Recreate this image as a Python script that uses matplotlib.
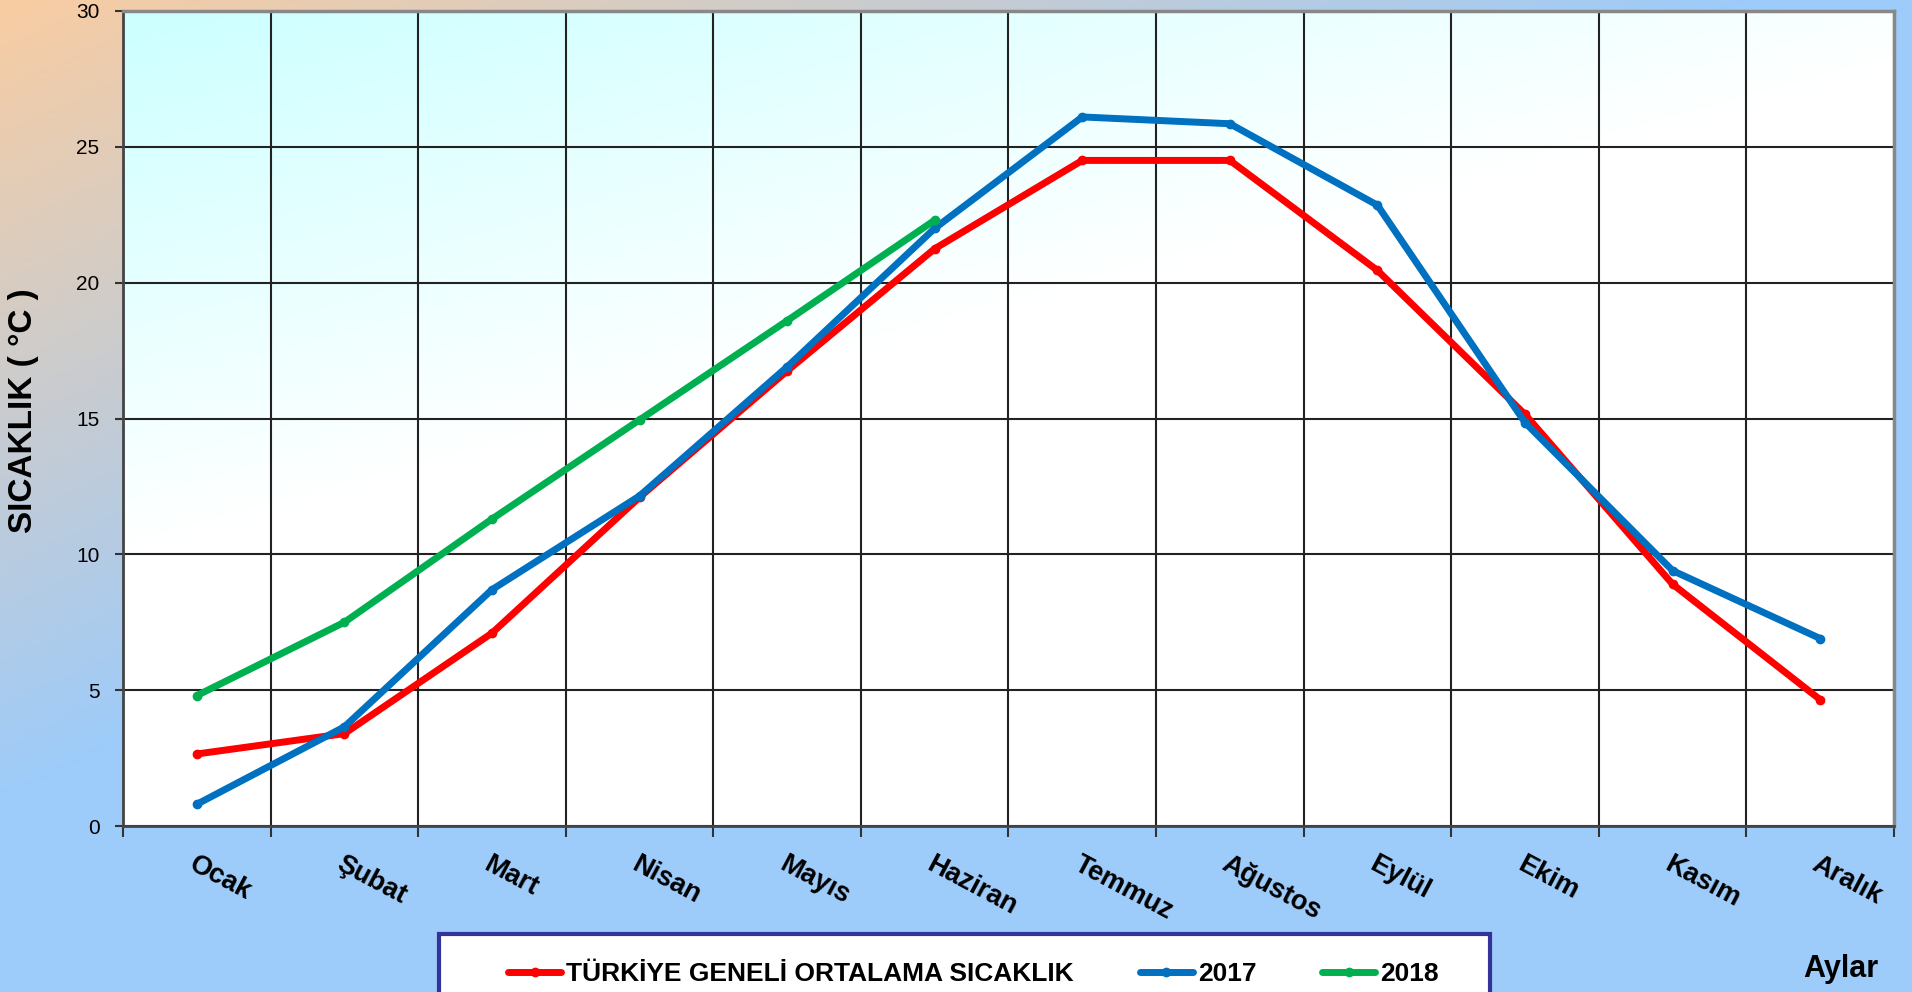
import numpy as np
import matplotlib
matplotlib.use("Agg")
import matplotlib.pyplot as plt
from matplotlib.patches import Rectangle

plt.rcParams['font.family'] = ['Liberation Sans', 'DejaVu Sans']

# data
months = ['Ocak', 'Şubat', 'Mart', 'Nisan', 'Mayıs', 'Haziran',
          'Temmuz', 'Ağustos', 'Eylül', 'Ekim', 'Kasım', 'Aralık']
ortalama = [2.65, 3.4, 7.1, 12.1, 16.75, 21.25, 24.5, 24.5, 20.45, 15.15, 8.9, 4.65]
y2017 = [0.8, 3.65, 8.7, 12.15, 16.9, 22.0, 26.1, 25.85, 22.85, 14.85, 9.4, 6.9]
y2018 = [4.8, 7.5, 11.3, 14.95, 18.6, 22.3]

series_names = ['TÜRKİYE GENELİ ORTALAMA SICAKLIK', '2017', '2018']
series_colors = ['#FF0000', '#0070C0', '#00B050']

W, H = 1912, 992
fig = plt.figure(figsize=(W / 100, H / 100), dpi=100)

# figure background: peach top-left -> blue
bg = fig.add_axes([0, 0, 1, 1], zorder=-10)
bg.set_axis_off()
xx, yy = np.meshgrid(np.linspace(0, W, 400), np.linspace(0, H, 200))
t = np.clip(xx / 1750 + yy / 800, 0, 1)[..., None]
c0 = np.array([249, 205, 162]) / 255
c1 = np.array([157, 203, 250]) / 255
bg.imshow(c0 * (1 - t) + c1 * t, extent=[0, 1, 0, 1], aspect='auto', origin='upper')
bg.set_xlim(0, 1)
bg.set_ylim(0, 1)

ax = fig.add_axes([123 / W, 1 - 826 / H, (1894 - 123) / W, (826 - 11) / H])
ax.patch.set_alpha(0)

# plot area background: light cyan top-left -> white
ax_x, ax_y = np.meshgrid(np.linspace(0, 1, 300), np.linspace(0, 1, 200))
ta = np.clip(ax_x * 0.9 + ax_y * 1.5, 0, 1)[..., None]
a0 = np.array([204, 255, 255]) / 255
a1 = np.array([255, 255, 255]) / 255
ax.imshow(a0 * (1 - ta) + a1 * ta, extent=[0, 1, 0, 1], aspect='auto',
          origin='upper', transform=ax.transAxes, zorder=0)

x = np.arange(len(months)) + 0.5
lines = []
for vals, name, col in zip([ortalama, y2017, y2018], series_names, series_colors):
    ln, = ax.plot(x[:len(vals)], vals, color=col, lw=5, marker='o', ms=6,
                  solid_joinstyle='round', solid_capstyle='round', label=name, zorder=5)
    lines.append(ln)

ax.set_xlim(0, 12)
ax.set_ylim(0, 30)
ax.set_xticks(np.arange(0, 13))
ax.set_xticklabels([])
ax.set_xticks(x, minor=True)
ax.set_xticklabels(months, minor=True, rotation=-28, ha='left', va='top',
                   rotation_mode='anchor', fontsize=19.5, fontweight='bold')
ax.tick_params(axis='x', which='major', direction='out', length=8, width=1.5, color='#333333')
ax.tick_params(axis='x', which='minor', length=0, pad=18)
ax.set_yticks(np.arange(0, 31, 5))
ax.tick_params(axis='y', direction='out', length=6, width=1.5, color='#333333',
               labelsize=15, pad=11)

ax.grid(True, which='major', color='#222222', lw=1.5, zorder=1)
ax.set_axisbelow(True)

for side in ['left', 'bottom']:
    ax.spines[side].set_color('#444444')
    ax.spines[side].set_linewidth(2)
for side in ['top', 'right']:
    ax.spines[side].set_color('#888888')
    ax.spines[side].set_linewidth(2.5)

ax.set_ylabel('SICAKLIK ( °C )', fontsize=24, fontweight='bold')
ax.yaxis.set_label_coords(-0.0474, 0.509)

# legend frame (runs off the bottom edge)
fig.patches.append(Rectangle((439 / W, -0.05), (1490 - 439) / W, 1 - 934 / H + 0.05,
                             transform=fig.transFigure, facecolor='white',
                             edgecolor='#333399', lw=3, zorder=2))
leg = fig.legend(handles=lines, loc='center left', bbox_to_anchor=(495 / W, 1 - 974 / H),
                 ncol=3, frameon=False, numpoints=1, prop={'size': 19, 'weight': 'bold'},
                 handlelength=2.0, handletextpad=0.2, columnspacing=2.5, borderpad=0)
leg.set_zorder(3)

fig.text(1841 / W, 1 - 969 / H, 'Aylar', ha='center', va='center', fontsize=22,
         fontweight='bold')

fig.savefig('out.png', dpi=100)
